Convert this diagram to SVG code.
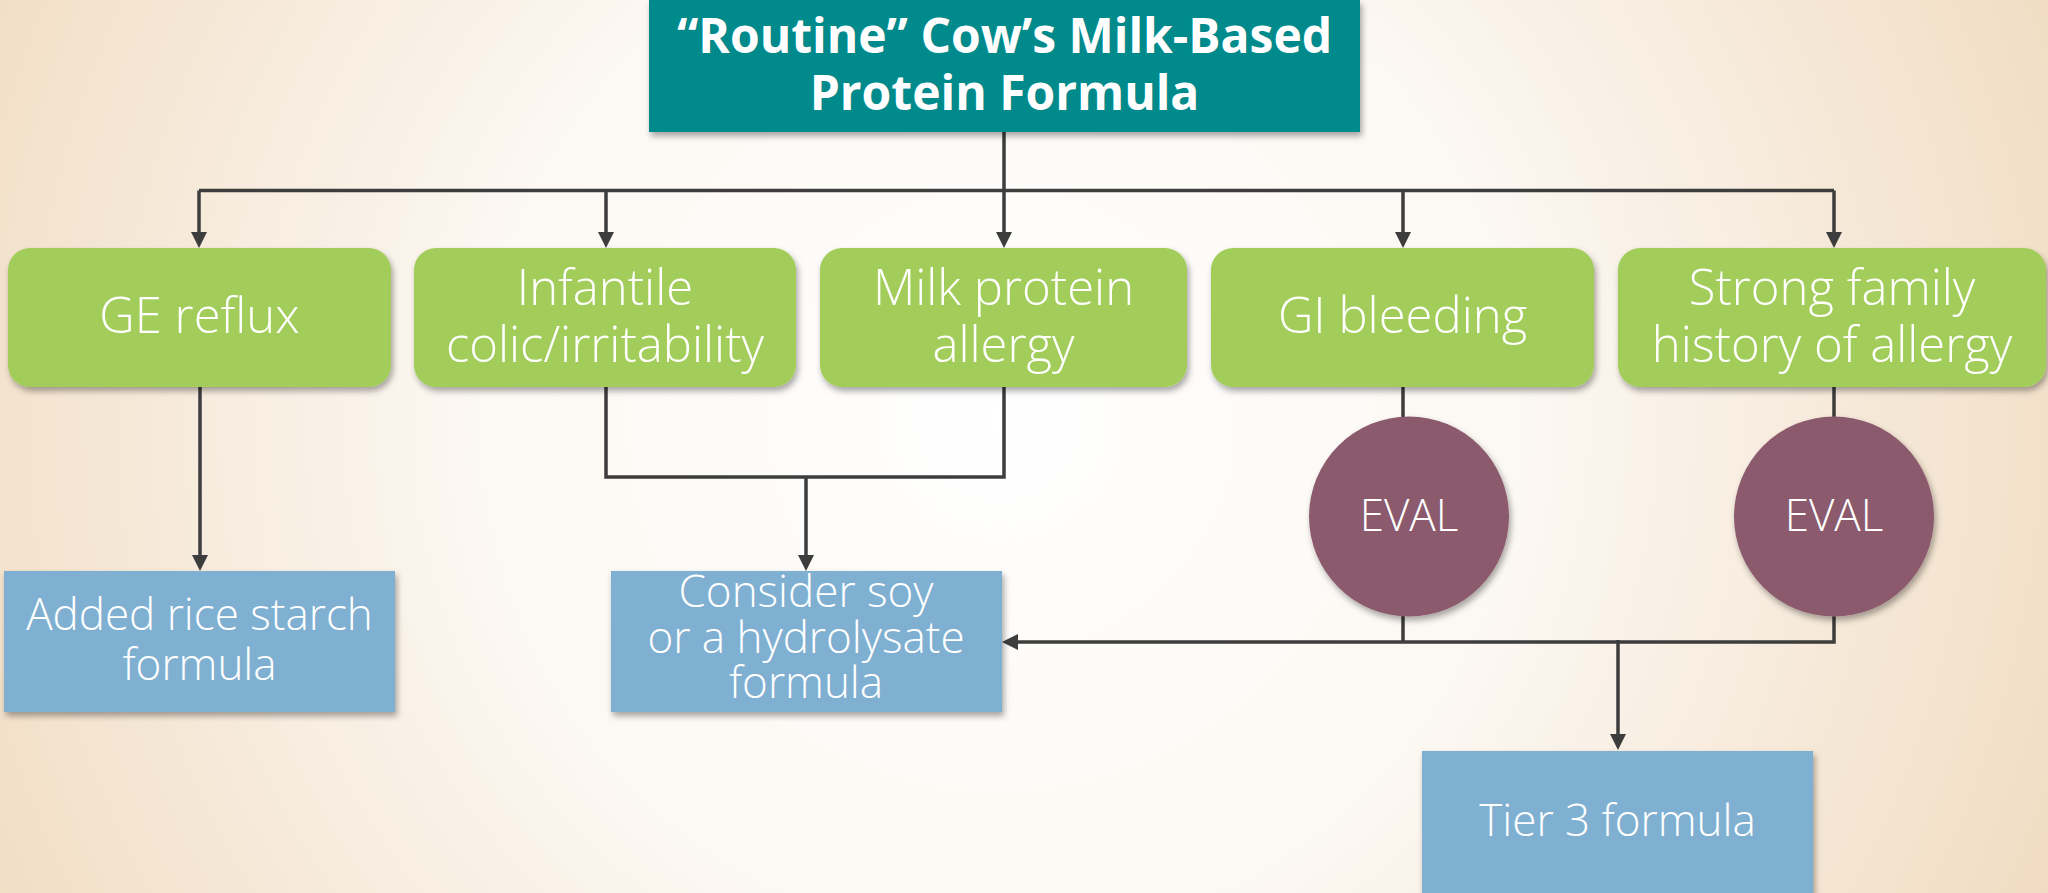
<svg xmlns="http://www.w3.org/2000/svg" width="2048" height="893" viewBox="0 0 2048 893">
<defs>
<radialGradient id="bg" gradientUnits="userSpaceOnUse" cx="1000" cy="420" r="1150">
<stop offset="0" stop-color="#ffffff"/>
<stop offset="0.45" stop-color="#fcf8f3"/>
<stop offset="1" stop-color="#f1dcc2"/>
</radialGradient>
<filter id="sh" x="-10%" y="-10%" width="120%" height="130%">
<feDropShadow dx="2" dy="4" stdDeviation="3" flood-color="#000" flood-opacity="0.35"/>
</filter>
<marker id="arr" markerUnits="userSpaceOnUse" markerWidth="16" markerHeight="16" viewBox="0 0 16 16" refX="8" refY="8" orient="auto">
<path d="M0,0 L16,8 L0,16 z" fill="#3d3d3d"/>
</marker>
</defs>
<style>
.ln{fill:none;stroke:#3d3d3d;stroke-width:3.5}
.ar{fill:none;stroke:#3d3d3d;stroke-width:3.5;marker-end:url(#arr)}
.title{fill:#068a8c}
.green{fill:#a2cd5a}
.blue{fill:#7fb0d1}
.purple{fill:#8b5a6d}
text{font-family:"Open Sans","Noto Sans","DejaVu Sans",sans-serif;fill:#ffffff;text-anchor:middle;font-weight:300}
.tt{font-size:48px;font-weight:bold}
.gt{font-size:49px}
.bt{font-size:44px}
</style>
<rect x="0" y="0" width="2048" height="893" fill="url(#bg)"/>
<g id="connectors">
<path class="ln" d="M1004,132 V190.5"/>
<path class="ln" d="M199,190.5 H1834"/>
<path class="ar" d="M199,190.5 V240"/>
<path class="ar" d="M606,190.5 V240"/>
<path class="ar" d="M1004,190.5 V240"/>
<path class="ar" d="M1403,190.5 V240"/>
<path class="ar" d="M1834,190.5 V240"/>
<path class="ar" d="M200,387 V563"/>
<path class="ln" d="M606,387 V477 H1004 V387"/>
<path class="ar" d="M806,477 V563"/>
<path class="ln" d="M1403,387 V417"/>
<path class="ln" d="M1834,387 V417"/>
<path class="ln" d="M1403,616 V642"/>
<path class="ar" d="M1834,616 V642 H1010"/>
<path class="ar" d="M1618,640 V742"/>
</g>
<g id="n_routine">
<rect class="title" x="649" y="0" width="711" height="132" filter="url(#sh)"/>
<text class="tt" x="1004.5" y="53">“Routine” Cow’s Milk-Based</text>
<text class="tt" x="1004.5" y="110">Protein Formula</text>
</g>
<g id="n_ge">
<rect class="green" x="8" y="248" width="383" height="139" rx="22" filter="url(#sh)"/>
<text class="gt" x="199.5" y="333">GE reflux</text>
</g>
<g id="n_colic">
<rect class="green" x="414" y="248" width="382" height="139" rx="22" filter="url(#sh)"/>
<text class="gt" x="605" y="305">Infantile</text>
<text class="gt" x="605" y="362">colic/irritability</text>
</g>
<g id="n_milk">
<rect class="green" x="820" y="248" width="367" height="139" rx="22" filter="url(#sh)"/>
<text class="gt" x="1003.5" y="305">Milk protein</text>
<text class="gt" x="1003.5" y="362">allergy</text>
</g>
<g id="n_gi">
<rect class="green" x="1211" y="248" width="383" height="139" rx="22" filter="url(#sh)"/>
<text class="gt" x="1402.5" y="333">GI bleeding</text>
</g>
<g id="n_family">
<rect class="green" x="1618" y="248" width="428" height="139" rx="22" filter="url(#sh)"/>
<text class="gt" x="1832" y="305">Strong family</text>
<text class="gt" x="1832" y="362">history of allergy</text>
</g>
<g id="n_eval1">
<circle class="purple" cx="1409" cy="516.5" r="100" filter="url(#sh)"/>
<text class="bt" x="1409" y="531">EVAL</text>
</g>
<g id="n_eval2">
<circle class="purple" cx="1834" cy="516.5" r="100" filter="url(#sh)"/>
<text class="bt" x="1834" y="531">EVAL</text>
</g>
<g id="n_rice">
<rect class="blue" x="4" y="571" width="391" height="141" filter="url(#sh)"/>
<text class="bt" x="199.5" y="630">Added rice starch</text>
<text class="bt" x="199.5" y="680">formula</text>
</g>
<g id="n_soy">
<rect class="blue" x="611" y="571" width="391" height="141" filter="url(#sh)"/>
<text class="bt" x="806" y="607">Consider soy</text>
<text class="bt" x="806" y="653">or a hydrolysate</text>
<text class="bt" x="806" y="698">formula</text>
</g>
<g id="n_tier3">
<rect class="blue" x="1422" y="751" width="391" height="150" filter="url(#sh)"/>
<text class="bt" x="1617.5" y="836">Tier 3 formula</text>
</g>
</svg>
